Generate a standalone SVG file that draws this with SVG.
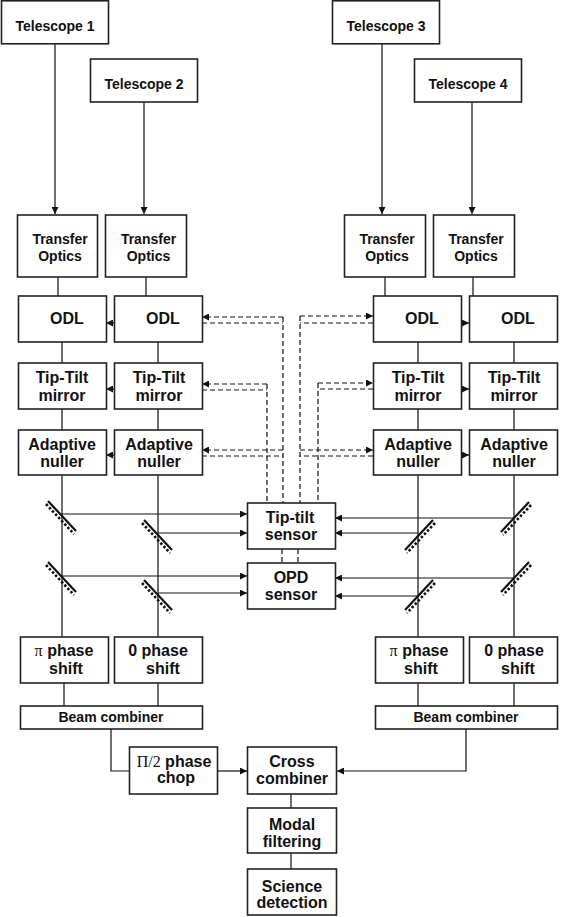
<svg xmlns="http://www.w3.org/2000/svg" width="567" height="917" viewBox="0 0 567 917">
<defs>
<style>
.box{fill:#fff;stroke:#222;stroke-width:1.6}
.t{font-family:"Liberation Sans",Arial,sans-serif;font-weight:bold;font-size:16px;fill:#111;text-anchor:middle}
.s14{font-size:14px}
.sym{font-family:"Liberation Serif","Times New Roman",serif;font-weight:normal}
.ln{stroke:#111;stroke-width:1.2;fill:none}
.dash{stroke:#111;stroke-width:1.2;fill:none;stroke-dasharray:5 3}
</style>
<marker id="ah" viewBox="0 0 10 10" refX="10" refY="5" markerWidth="8" markerHeight="7" markerUnits="userSpaceOnUse" orient="auto">
<path d="M0,0 L10,5 L0,10 z" fill="#111"/>
</marker>
<g id="mir">
<line x1="-14" y1="-15" x2="14" y2="15" stroke="#111" stroke-width="2.2"/>
<line x1="-16" y1="-12" x2="12" y2="18" stroke="#111" stroke-width="2.6" stroke-dasharray="2.5 2"/>
</g>
</defs>

<g id="connectors">
<!-- telescope arrows -->
<line class="ln" x1="55" y1="44" x2="55" y2="214" marker-end="url(#ah)"/>
<line class="ln" x1="144" y1="102" x2="144" y2="214" marker-end="url(#ah)"/>
<line class="ln" x1="382" y1="44" x2="382" y2="214" marker-end="url(#ah)"/>
<line class="ln" x1="472" y1="102" x2="472" y2="214" marker-end="url(#ah)"/>
<!-- TO to ODL and chain verticals -->
<path class="ln" d="M58,277 V296 M62,342 V363 M62,409 V430 M62,475 V637 M64,683 V706"/>
<path class="ln" d="M146,277 V296 M158,342 V363 M158,409 V430 M158,475 V637 M158,683 V706"/>
<path class="ln" d="M385,277 V296 M418,342 V363 M418,409 V430 M418,475 V637 M418,683 V706"/>
<path class="ln" d="M473,277 V296 M514,342 V363 M514,409 V430 M514,475 V637 M514,683 V706"/>
<!-- inter-box small arrows -->
<line class="ln" x1="114" y1="323" x2="106" y2="323" marker-end="url(#ah)"/>
<line class="ln" x1="114" y1="389" x2="106" y2="389" marker-end="url(#ah)"/>
<line class="ln" x1="114" y1="455" x2="106" y2="455" marker-end="url(#ah)"/>
<line class="ln" x1="461" y1="323" x2="469" y2="323" marker-end="url(#ah)"/>
<line class="ln" x1="461" y1="389" x2="469" y2="389" marker-end="url(#ah)"/>
<line class="ln" x1="461" y1="455" x2="469" y2="455" marker-end="url(#ah)"/>
<!-- dashed control lines left -->
<path class="dash" d="M283,317 H202" marker-end="url(#ah)"/>
<path class="dash" d="M202,323 H283 M283,317 V503"/>
<path class="dash" d="M267,384 H202" marker-end="url(#ah)"/>
<path class="dash" d="M202,390 H267 M267,384 V503"/>
<path class="dash" d="M283,450 H202" marker-end="url(#ah)"/>
<path class="dash" d="M202,456 H283"/>
<!-- dashed control lines right -->
<path class="dash" d="M300,316 H373" marker-end="url(#ah)"/>
<path class="dash" d="M373,323 H300 M300,316 V503"/>
<path class="dash" d="M318,383 H373" marker-end="url(#ah)"/>
<path class="dash" d="M373,389 H318 M318,383 V503"/>
<path class="dash" d="M300,450 H373" marker-end="url(#ah)"/>
<path class="dash" d="M373,456 H300"/>
<!-- between sensors -->
<path class="dash" d="M282,549 V563 M298,549 V563"/>
<!-- mirror beams -->
<line class="ln" x1="62" y1="514" x2="247" y2="514" marker-end="url(#ah)"/>
<line class="ln" x1="158" y1="533" x2="247" y2="533" marker-end="url(#ah)"/>
<line class="ln" x1="62" y1="576" x2="247" y2="576" marker-end="url(#ah)"/>
<line class="ln" x1="158" y1="593" x2="247" y2="593" marker-end="url(#ah)"/>
<line class="ln" x1="514" y1="518" x2="335" y2="518" marker-end="url(#ah)"/>
<line class="ln" x1="418" y1="533" x2="335" y2="533" marker-end="url(#ah)"/>
<line class="ln" x1="514" y1="578" x2="335" y2="578" marker-end="url(#ah)"/>
<line class="ln" x1="418" y1="596" x2="335" y2="596" marker-end="url(#ah)"/>
<!-- bottom -->
<path class="ln" d="M111,729 V771 H129"/>
<line class="ln" x1="217" y1="771" x2="247" y2="771" marker-end="url(#ah)"/>
<path class="ln" d="M466,729 V771 H337" marker-end="url(#ah)"/>
<path class="ln" d="M291,794 V808 M291,853 V869"/>
</g>

<g id="mirrors">
<use href="#mir" transform="translate(62,516)"/>
<use href="#mir" transform="translate(158,535)"/>
<use href="#mir" transform="translate(62,577)"/>
<use href="#mir" transform="translate(158,595)"/>
<use href="#mir" transform="translate(515,517) scale(-1,1)"/>
<use href="#mir" transform="translate(419,535) scale(-1,1)"/>
<use href="#mir" transform="translate(515,577) scale(-1,1)"/>
<use href="#mir" transform="translate(419,595) scale(-1,1)"/>
</g>

<g id="telescope1"><rect class="box" x="1.5" y="0.8" width="107" height="43"/><text class="t s14" x="55" y="31">Telescope 1</text></g>
<g id="telescope2"><rect class="box" x="90.5" y="59" width="107" height="43"/><text class="t s14" x="144" y="89">Telescope 2</text></g>
<g id="telescope3"><rect class="box" x="332.5" y="0.8" width="107" height="43"/><text class="t s14" x="386" y="31">Telescope 3</text></g>
<g id="telescope4"><rect class="box" x="414.5" y="59" width="107" height="43"/><text class="t s14" x="468" y="89">Telescope 4</text></g>

<g id="to1"><rect class="box" x="17.5" y="215" width="80" height="62"/><text class="t s14" x="60" y="244">Transfer</text><text class="t s14" x="60" y="261">Optics</text></g>
<g id="to2"><rect class="box" x="105.5" y="215" width="81" height="62"/><text class="t s14" x="148.5" y="244">Transfer</text><text class="t s14" x="148.5" y="261">Optics</text></g>
<g id="to3"><rect class="box" x="344.5" y="215" width="81" height="62"/><text class="t s14" x="387" y="244">Transfer</text><text class="t s14" x="387" y="261">Optics</text></g>
<g id="to4"><rect class="box" x="433.5" y="215" width="81" height="62"/><text class="t s14" x="476" y="244">Transfer</text><text class="t s14" x="476" y="261">Optics</text></g>

<g id="odl1"><rect class="box" x="18.5" y="296" width="88" height="46"/><text class="t" x="67" y="324">ODL</text></g>
<g id="odl2"><rect class="box" x="114.5" y="296" width="88" height="46"/><text class="t" x="163" y="324">ODL</text></g>
<g id="odl3"><rect class="box" x="373.5" y="296" width="88" height="46"/><text class="t" x="422" y="324">ODL</text></g>
<g id="odl4"><rect class="box" x="469.5" y="296" width="88" height="46"/><text class="t" x="518" y="324">ODL</text></g>

<g id="ttm1"><rect class="box" x="18.5" y="363" width="88" height="46"/><text class="t" x="62" y="383">Tip-Tilt</text><text class="t" x="62" y="401">mirror</text></g>
<g id="ttm2"><rect class="box" x="114.5" y="363" width="88" height="46"/><text class="t" x="159" y="383">Tip-Tilt</text><text class="t" x="159" y="401">mirror</text></g>
<g id="ttm3"><rect class="box" x="373.5" y="363" width="88" height="46"/><text class="t" x="418" y="383">Tip-Tilt</text><text class="t" x="418" y="401">mirror</text></g>
<g id="ttm4"><rect class="box" x="469.5" y="363" width="88" height="46"/><text class="t" x="514" y="383">Tip-Tilt</text><text class="t" x="514" y="401">mirror</text></g>

<g id="an1"><rect class="box" x="18.5" y="430" width="88" height="45"/><text class="t" x="62" y="450">Adaptive</text><text class="t" x="62" y="467">nuller</text></g>
<g id="an2"><rect class="box" x="114.5" y="430" width="88" height="45"/><text class="t" x="159" y="450">Adaptive</text><text class="t" x="159" y="467">nuller</text></g>
<g id="an3"><rect class="box" x="373.5" y="430" width="88" height="45"/><text class="t" x="418" y="450">Adaptive</text><text class="t" x="418" y="467">nuller</text></g>
<g id="an4"><rect class="box" x="469.5" y="430" width="88" height="45"/><text class="t" x="514" y="450">Adaptive</text><text class="t" x="514" y="467">nuller</text></g>

<g id="ttsensor"><rect class="box" x="247.5" y="503" width="88" height="46"/><text class="t" x="290" y="523">Tip-tilt</text><text class="t" x="291" y="540">sensor</text></g>
<g id="opdsensor"><rect class="box" x="247.5" y="563" width="88" height="46"/><text class="t" x="291" y="583">OPD</text><text class="t" x="291" y="600">sensor</text></g>

<g id="ps1"><rect class="box" x="20.5" y="637" width="88" height="46"/><text class="t" x="64" y="656"><tspan class="sym">π</tspan> phase</text><text class="t" x="66" y="674">shift</text></g>
<g id="ps2"><rect class="box" x="114.5" y="637" width="88" height="46"/><text class="t" x="158" y="656">0 phase</text><text class="t" x="163" y="674">shift</text></g>
<g id="ps3"><rect class="box" x="375.5" y="637" width="88" height="46"/><text class="t" x="419" y="656"><tspan class="sym">π</tspan> phase</text><text class="t" x="421" y="674">shift</text></g>
<g id="ps4"><rect class="box" x="469.5" y="637" width="88" height="46"/><text class="t" x="514" y="656">0 phase</text><text class="t" x="518" y="674">shift</text></g>

<g id="bc1"><rect class="box" x="20.5" y="706" width="182" height="23"/><text class="t s14" x="111" y="722">Beam combiner</text></g>
<g id="bc2"><rect class="box" x="375.5" y="706" width="182" height="23"/><text class="t s14" x="466" y="722">Beam combiner</text></g>

<g id="chop"><rect class="box" x="129.5" y="747" width="88" height="47"/><text class="t" x="174" y="767"><tspan class="sym">Π/2</tspan> phase</text><text class="t" x="176" y="783">chop</text></g>
<g id="cross"><rect class="box" x="247.5" y="747" width="89" height="47"/><text class="t" x="292" y="767">Cross</text><text class="t" x="292" y="784">combiner</text></g>
<g id="modal"><rect class="box" x="247.5" y="808" width="89" height="45"/><text class="t" x="292" y="830">Modal</text><text class="t" x="292" y="847">filtering</text></g>
<g id="science"><rect class="box" x="247.5" y="869" width="89" height="46"/><text class="t" x="292" y="892">Science</text><text class="t" x="292" y="908">detection</text></g>
</svg>
